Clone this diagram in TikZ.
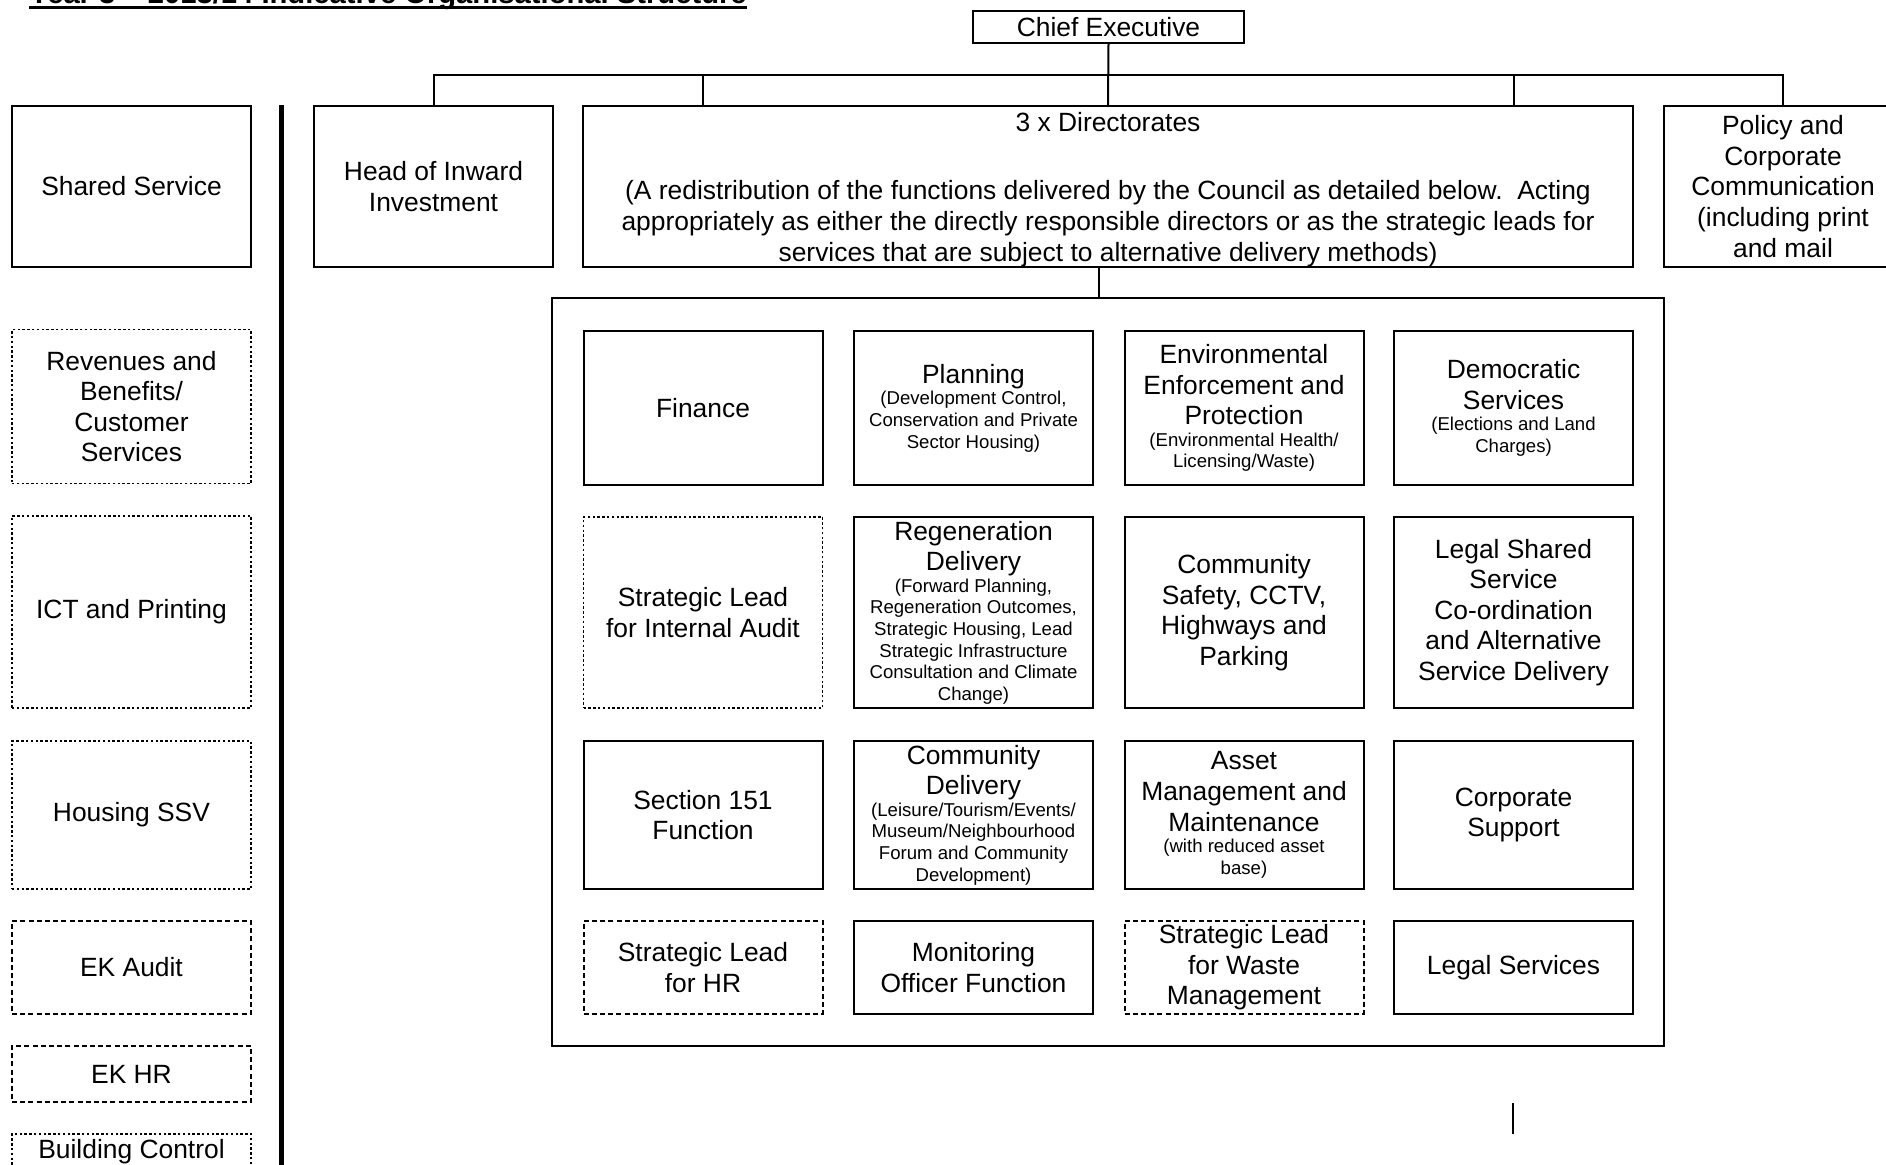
\documentclass[tikz,border=0pt]{standalone}
\usepackage{fontspec}
\setmainfont{Liberation Sans}
\newcommand\mainf{\fontsize{13.2}{15.3}\selectfont}
\newcommand\smf{\fontsize{9.3}{10.8}\selectfont}
\newcommand\sm[1]{\par{\smf\centering\spaceskip=0pt\xspaceskip=0pt #1\par}}
\begin{document}
\begin{tikzpicture}[x=0.5pt,y=-0.5pt,
  box/.style={draw, line width=1pt, rectangle, inner sep=0pt, align=center, font=\mainf, text width=230*0.5pt,
    execute at begin node={\centering\spaceskip=0pt\xspaceskip=0pt}},
  wh/.style 2 args={minimum width=#1*0.5pt, minimum height=#2*0.5pt},
  tw/.style={text width=#1*0.5pt},
  dotbox/.style={box, line width=0.8pt, dash pattern=on 1.2pt off 1.2pt},
  dashbox/.style={box, dash pattern=on 2.5pt off 1.6pt},
  conn/.style={draw, line width=1pt},
  thick rule/.style={draw, line width=2.6pt},
]
\useasboundingbox (0,0) rectangle (1886,1164);
\clip (0,0) rectangle (1886,1164);

% title (cut off at top)
\node[font=\fontsize{14.6}{17}\selectfont\bfseries, anchor=base west, inner sep=0pt] (title) at (29,3.5) {Year 3 -- 2013/14 Indicative Organisational Structure};
\draw[line width=1.5pt] ([yshift=-2pt]title.base west) -- ([yshift=-2pt]title.base east);

% top level
\node[box, wh={271}{32}, tw=265] (ce) at (1108.5,27) {Chief Executive};
\node[box, wh={239}{161}] (ss) at (131.5,186.5) {Shared Service};
\node[box, wh={239}{161}] (hii) at (433.5,186.5) {Head of Inward\\Investment};
\node[box, wh={1050}{161}, tw=1040] (dir) at (1108,186.5) {\rule{0pt}{12.5pt}3 x Directorates\\[19pt](A redistribution of the functions delivered by the Council as detailed below.\ \ Acting\\appropriately as either the directly responsible directors or as the strategic leads for\\services that are subject to alternative delivery methods)};
\node[box, wh={238}{161}] (pol) at (1783,186.5) {Policy and\\Corporate\\Communication\\(including print\\and mail};

% container
\node[draw, line width=1pt, rectangle, inner sep=0pt, wh={1111.5}{748}] (cont) at (1107.75,672.35) {};

% grid row 1
\node[box, wh={239}{154}] (fin) at (703,408) {Finance};
\node[box, wh={239}{154}] (plan) at (973.5,408) {Planning\sm{(Development Control,\\Conservation and Private\\Sector Housing)}};
\node[box, wh={239}{154}] (env) at (1244,408) {Environmental\\Enforcement and\\Protection\sm{(Environmental Health/\\Licensing/Waste)}};
\node[box, wh={239}{154}] (dem) at (1513.5,408) {Democratic\\Services\sm{(Elections and Land\\Charges)}};
% row 2
\node[dotbox, wh={239}{191}] (sia) at (703,612.5) {Strategic Lead\\for Internal Audit};
\node[box, wh={239}{191}] (reg) at (973.5,612.5) {Regeneration\\Delivery\sm{(Forward Planning,\\Regeneration Outcomes,\\Strategic Housing, Lead\\Strategic Infrastructure\\Consultation and Climate\\Change)}};
\node[box, wh={239}{191}] (csc) at (1244,612.5) {Community\\Safety, CCTV,\\Highways and\\Parking};
\node[box, wh={239}{191}] (lss) at (1513.5,612.5) {Legal Shared\\Service\\Co-ordination\\and Alternative\\Service Delivery};
% row 3
\node[box, wh={239}{148}] (s151) at (703,815) {Section 151\\Function};
\node[box, wh={239}{148}] (cd) at (973.5,815) {Community\\Delivery\sm{(Leisure/Tourism/Events/\\Museum/Neighbourhood\\Forum and Community\\Development)}};
\node[box, wh={239}{148}] (amm) at (1244,815) {Asset\\Management and\\Maintenance\sm{(with reduced asset\\base)}};
\node[box, wh={239}{148}] (cs) at (1513.5,815) {Corporate\\Support};
% row 4
\node[dashbox, wh={239}{93}] (shr) at (703,967.5) {Strategic Lead\\for HR};
\node[box, wh={239}{93}] (mof) at (973.5,967.5) {Monitoring\\Officer Function};
\node[dashbox, wh={239}{93}] (swm) at (1244,967.5) {Strategic Lead\\for Waste\\Management};
\node[box, wh={239}{93}] (ls) at (1513.5,967.5) {Legal Services};

% left column (shared services)
\node[dotbox, wh={239}{154}] (rev) at (131.5,406.5) {Revenues and\\Benefits/\\Customer\\Services};
\node[dotbox, wh={239}{192}] (ict) at (131.5,612) {ICT and Printing};
\node[dotbox, wh={239}{148}] (hou) at (131.5,815) {Housing SSV};
\node[dashbox, wh={239}{93}] (eka) at (131.5,967.5) {EK Audit};
\node[dashbox, wh={239}{56}] (ekh) at (131.5,1074) {EK HR};
\node[dotbox, wh={239}{36}] (bc) at (131.5,1152) {Building Control};

% separator rule
\coordinate (vt) at (281.5,105);
\coordinate (vb) at (281.5,1175);
\path[thick rule] (vt) -- (vb);

% connectors
\coordinate (bary) at (0,74.6);
\path[conn] (ce.south) -- (dir.north);
\path[conn] (hii.north) -- (hii.north |- bary) -- (pol.north |- bary) -- (pol.north);
\path[conn] (fin.north |- bary) -- (fin.north |- dir.north);
\path[conn] (dem.north |- bary) -- (dem.north |- dir.north);
\path[conn] ([xshift=-4.3pt]dir.south) -- ([xshift=-4.3pt]dir.south |- cont.north);

% small stray rule
\coordinate (st) at (1513,1103);
\coordinate (sb) at (1513,1134);
\path[conn] (st) -- (sb);
\end{tikzpicture}
\end{document}
